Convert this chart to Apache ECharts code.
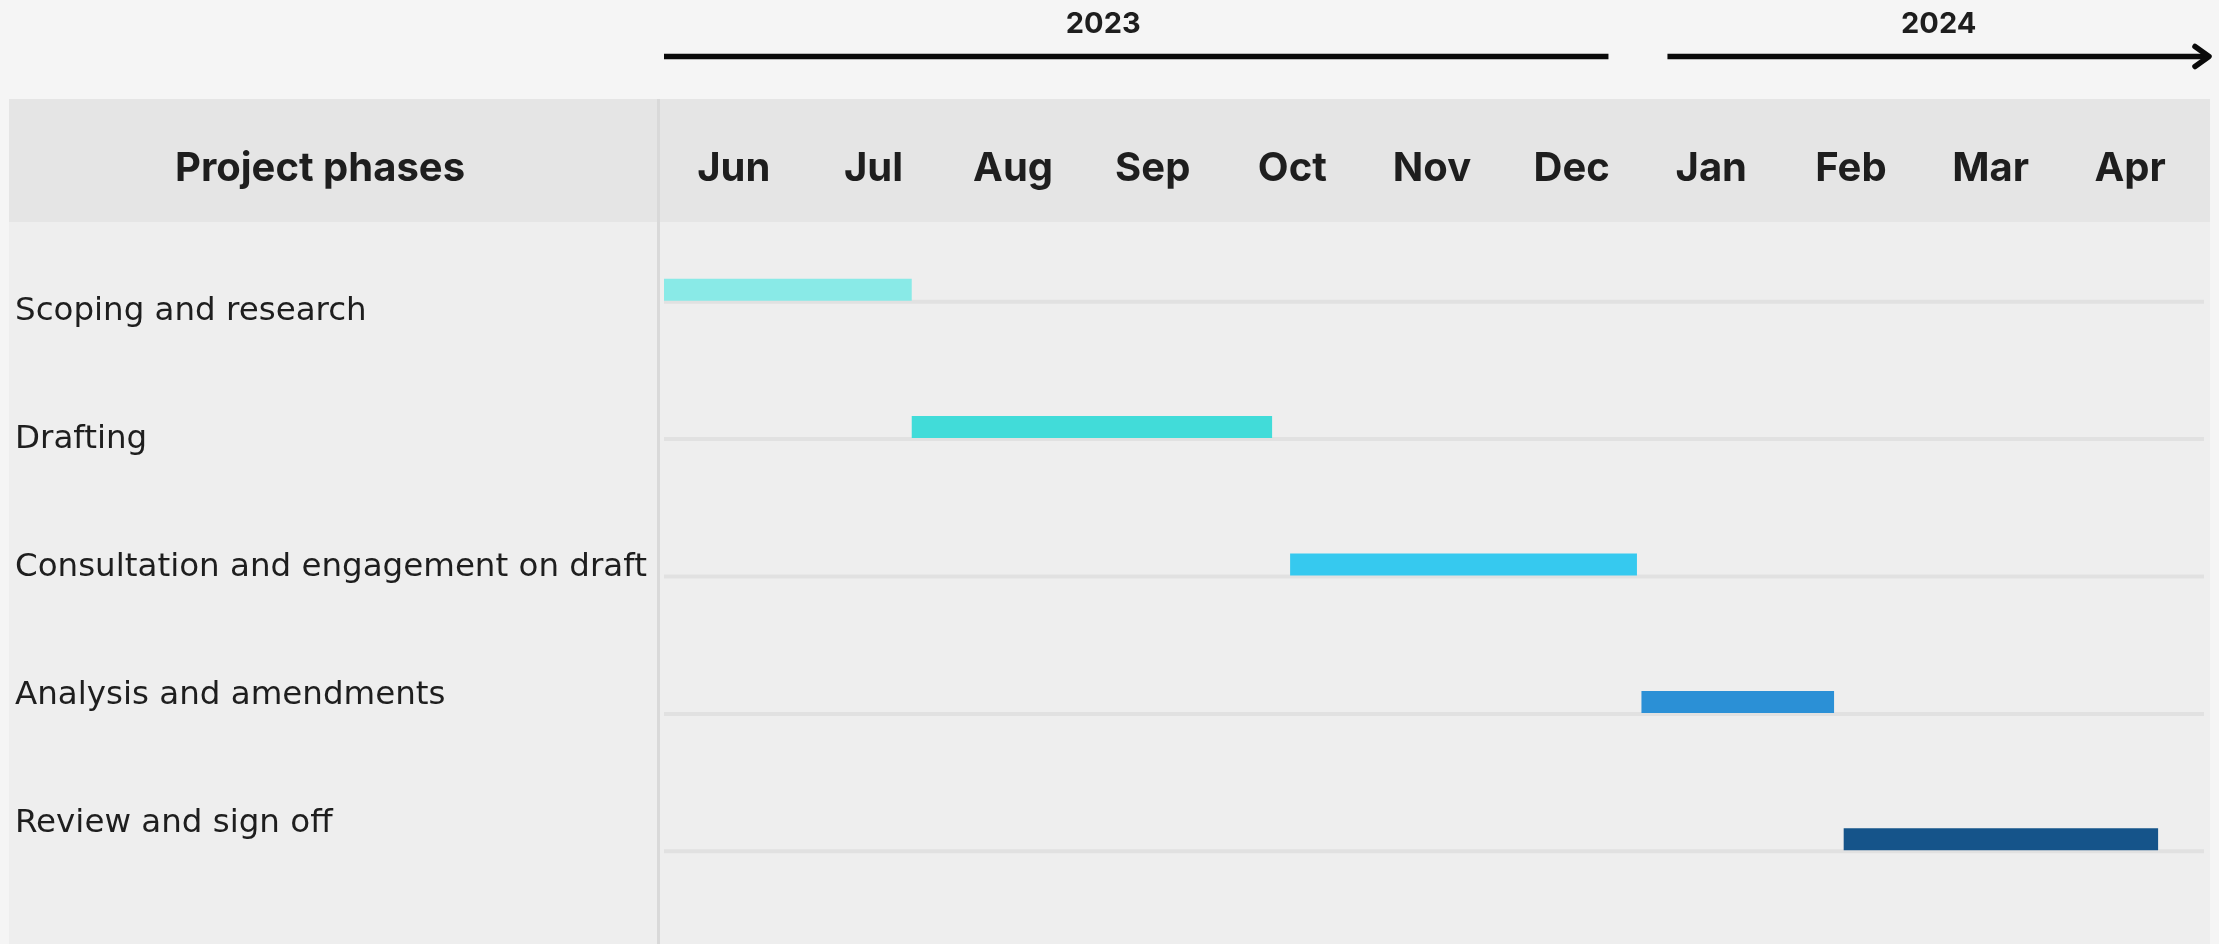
<!DOCTYPE html>
<html>
<head>
<meta charset="utf-8">
<title>Project phases timeline</title>
<script src="https://cdn.jsdelivr.net/npm/echarts@6/dist/echarts.min.js"></script>
<style>
  html, body { margin: 0; padding: 0; background: #f5f5f5; }
  #chart { width: 2219px; height: 944px; }
</style>
</head>
<body>
<div id="chart"></div>
<script>
// Phases of the project, in order, with their start and end dates
const phases = [
  'Scoping and research',
  'Drafting',
  'Consultation and engagement on draft',
  'Analysis and amendments',
  'Review and sign off'
];
const phaseStarts = ['2023-06-01', '2023-07-25', '2023-10-16', '2024-01-01', '2024-02-14'];
const phaseEnds   = ['2023-07-25', '2023-10-12', '2023-12-31', '2024-02-12', '2024-04-22'];

// Month columns along the top, and the years they belong to
const months = ['Jun', 'Jul', 'Aug', 'Sep', 'Oct', 'Nov', 'Dec', 'Jan', 'Feb', 'Mar', 'Apr'];
const years = ['2023', '2024'];
const monthsPerYear = [7, 4];

// One colour per phase, light teal through to dark blue
const phaseColors = ['#89eae7', '#41dcd9', '#36c9ef', '#2b90d6', '#15548a'];

const timelineStart = { year: 2023, month: 6 };

// Fractional number of months since the start of the timeline
function monthOffset(dateStr) {
  const [y, m, d] = dateStr.split('-').map(Number);
  const daysInMonth = new Date(y, m, 0).getDate();
  return (y - timelineStart.year) * 12 + (m - timelineStart.month) + (d - 1) / daysInMonth;
}

const barData = phases.map((name, i) => ({
  name: name,
  value: [monthOffset(phaseStarts[i]), monthOffset(phaseEnds[i]), i],
  itemStyle: { color: phaseColors[i] }
}));

const TEXT = '#1e1e1e';

const chart = echarts.init(document.getElementById('chart'), null, { renderer: 'canvas' });

const option = {
  backgroundColor: '#f5f5f5',
  animation: false,
  grid: [
    // timeline area
    { left: 664, right: 19, top: 221, bottom: 36 },
    // phase name column
    { left: 15, width: 600, top: 248, bottom: 56 }
  ],
  xAxis: [
    {
      gridIndex: 0,
      type: 'category',
      data: months,
      position: 'top',
      boundaryGap: true,
      axisLine: { show: false },
      axisTick: { show: false },
      splitLine: { show: false },
      axisLabel: {
        interval: 0,
        margin: 52,
        verticalAlign: 'middle',
        fontFamily: 'Inter',
        fontWeight: 'bold',
        fontSize: 40,
        color: TEXT
      }
    },
    { gridIndex: 0, type: 'value', min: 0, max: months.length, show: false },
    { gridIndex: 1, type: 'value', min: 0, max: 1, show: false }
  ],
  yAxis: [
    { gridIndex: 0, type: 'category', data: phases, inverse: true, show: false },
    {
      gridIndex: 1,
      type: 'category',
      data: phases,
      inverse: true,
      axisLine: { show: false },
      axisTick: { show: false },
      splitLine: { show: false },
      axisLabel: {
        inside: true,
        margin: 0,
        align: 'left',
        fontFamily: 'DejaVu Sans',
        fontSize: 32.5,
        color: TEXT
      }
    }
  ],
  series: [
    {
      type: 'custom',
      xAxisIndex: 1,
      yAxisIndex: 0,
      encode: { x: [0, 1], y: 2 },
      data: barData,
      renderItem: function (params, api) {
        const row = api.value(2);
        const start = api.coord([api.value(0), row]);
        const end = api.coord([api.value(1), row]);
        const cs = params.coordSys;
        return {
          type: 'group',
          children: [
            {
              // row rule under the bar
              type: 'rect',
              shape: { x: cs.x, y: start[1] + 10, width: cs.width + 4, height: 4 },
              style: { fill: '#e1e1e1' }
            },
            {
              type: 'rect',
              shape: { x: start[0], y: start[1] - 11, width: end[0] - start[0], height: 22 },
              style: { fill: api.visual('color') }
            }
          ]
        };
      }
    }
  ]
};

chart.setOption(option);

// Panels, header and year arrows, placed from the month scale
const px = v => chart.convertToPixel({ xAxisIndex: 1 }, v);

const elements = [
  { type: 'rect', z: -10, silent: true, shape: { x: 9, y: 99, width: 2201, height: 123 }, style: { fill: '#e5e5e5' } },
  { type: 'rect', z: -10, silent: true, shape: { x: 9, y: 222, width: 2201, height: 722 }, style: { fill: '#eeeeee' } },
  { type: 'rect', z: -9, silent: true, shape: { x: 657, y: 99, width: 3, height: 845 }, style: { fill: '#d9d9d9' } },
  {
    type: 'text', x: 320, y: 169,
    style: {
      text: 'Project phases', font: 'bold 40px Inter', fill: TEXT,
      align: 'center', verticalAlign: 'middle', textAlign: 'center', textVerticalAlign: 'middle'
    }
  }
];

const YEAR_GAP = 33;
let m0 = 0;
years.forEach((yr, i) => {
  const m1 = m0 + monthsPerYear[i];
  const last = i === years.length - 1;
  const x1 = px(m0) + (i === 0 ? 0 : 26);
  const x2 = last ? px(m1) + 10 : px(m1) - YEAR_GAP;
  const yLine = 56.5;
  elements.push({
    type: 'line',
    shape: { x1: x1, y1: yLine, x2: last ? x2 - 3 : x2, y2: yLine },
    style: { stroke: '#0a0a0a', lineWidth: 5.5 }
  });
  if (last) {
    elements.push({
      type: 'polyline',
      shape: { points: [[x2 - 15, yLine - 10], [x2 - 1, yLine], [x2 - 15, yLine + 10]] },
      style: { stroke: '#0a0a0a', fill: null, lineWidth: 5.5, lineCap: 'round', lineJoin: 'round' }
    });
  }
  const labelX = last ? (x1 + x2) / 2 : (x1 + x2 - 2 * YEAR_GAP) / 2;
  elements.push({
    type: 'text', x: labelX, y: 24,
    style: {
      text: yr, font: 'bold 29px Inter', fill: TEXT,
      align: 'center', verticalAlign: 'middle', textAlign: 'center', textVerticalAlign: 'middle'
    }
  });
  m0 = m1;
});

chart.setOption({ graphic: { elements: elements } });
</script>
</body>
</html>
